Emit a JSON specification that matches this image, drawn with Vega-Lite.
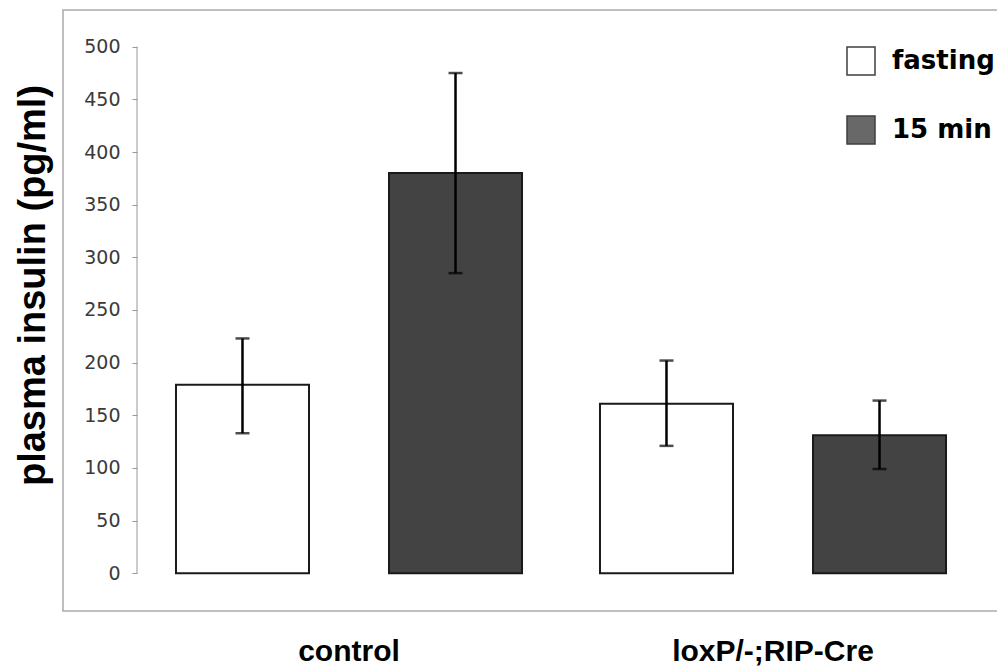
{
  "$schema": "https://vega.github.io/schema/vega-lite/v6.json",
  "width": 937,
  "height": 601,
  "autosize": {"type": "none"},
  "padding": {"left": 63, "top": 10, "right": -3, "bottom": 56},
  "background": "white",
  "config": {
    "view": {"stroke": "#aaaaaa", "strokeWidth": 1.5},
    "font": "Liberation Sans"
  },
  "data": {
    "values": [
      {"group": "control", "condition": "fasting", "insulin": 179, "lo": 133, "hi": 223},
      {"group": "control", "condition": "15 min", "insulin": 380, "lo": 285, "hi": 475},
      {"group": "loxP/-;RIP-Cre", "condition": "fasting", "insulin": 161, "lo": 121, "hi": 202},
      {"group": "loxP/-;RIP-Cre", "condition": "15 min", "insulin": 131, "lo": 99, "hi": 164}
    ]
  },
  "encoding": {
    "x": {
      "field": "group",
      "type": "nominal",
      "sort": ["control", "loxP/-;RIP-Cre"],
      "scale": {"paddingInner": 0, "paddingOuter": 0.10495, "align": 0.8315},
      "axis": {
        "title": null,
        "domain": false,
        "ticks": false,
        "labelAngle": 0,
        "labelLimit": 0,
        "labelFont": "Liberation Sans",
        "labelFontWeight": "bold",
        "labelFontSize": 30,
        "labelColor": "#000000",
        "labelPadding": 25
      }
    },
    "xOffset": {
      "field": "condition",
      "type": "nominal",
      "sort": ["fasting", "15 min"],
      "scale": {"paddingInner": 0.3756, "paddingOuter": 0.183}
    }
  },
  "layer": [
    {
      "mark": {"type": "bar", "stroke": "#1a1a1a", "strokeWidth": 2},
      "encoding": {
        "y": {
          "field": "insulin",
          "type": "quantitative",
          "scale": {"domain": [-35.8, 534.85], "nice": false, "zero": false},
          "axis": {
            "offset": -74,
            "values": [0, 50, 100, 150, 200, 250, 300, 350, 400, 450, 500],
            "domain": false,
            "grid": false,
            "tickColor": "#999999",
            "tickSize": 5,
            "tickWidth": 1,
            "labelFont": "DejaVu Sans",
            "labelFontSize": 19,
            "labelColor": "#3a3a3a",
            "labelPadding": 12,
            "title": "plasma insulin (pg/ml)",
            "titleFont": "Liberation Sans",
            "titleFontWeight": "bold",
            "titleFontSize": 38,
            "titleColor": "#000000",
            "titleX": -85,
            "titleY": 275,
            "titleAngle": -90,
            "titleAlign": "center",
            "titleBaseline": "bottom"
          }
        },
        "y2": {"datum": 0},
        "fill": {
          "field": "condition",
          "type": "nominal",
          "scale": {"domain": ["fasting", "15 min"], "range": ["#ffffff", "#434343"]},
          "legend": {
            "title": null,
            "orient": "none",
            "legendX": 783,
            "legendY": 36,
            "padding": 0,
            "symbolType": "square",
            "symbolSize": 784,
            "symbolStrokeColor": "#111111",
            "symbolStrokeWidth": 1.5,
            "symbolOpacity": 0.8,
            "labelFont": "DejaVu Sans",
            "labelFontWeight": "bold",
            "labelFontSize": 26,
            "labelColor": "#000000",
            "labelOffset": 16,
            "labelLimit": 0,
            "rowPadding": 35
          }
        }
      }
    },
    {
      "mark": {"type": "rule", "color": "#000000", "strokeWidth": 2.5},
      "encoding": {
        "y": {"field": "lo", "type": "quantitative"},
        "y2": {"field": "hi"}
      }
    },
    {
      "mark": {"type": "tick", "color": "#000000", "size": 14, "thickness": 2.5},
      "encoding": {"y": {"field": "lo", "type": "quantitative"}}
    },
    {
      "mark": {"type": "tick", "color": "#000000", "size": 14, "thickness": 2.5},
      "encoding": {"y": {"field": "hi", "type": "quantitative"}}
    },
    {
      "data": {"values": [{}]},
      "mark": {"type": "rule", "color": "#999999", "strokeWidth": 1},
      "encoding": {
        "x": {"datum": "control", "type": "nominal", "bandPosition": 0},
        "xOffset": null,
        "y": {"datum": 0, "type": "quantitative"},
        "y2": {"datum": 500}
      }
    }
  ]
}
